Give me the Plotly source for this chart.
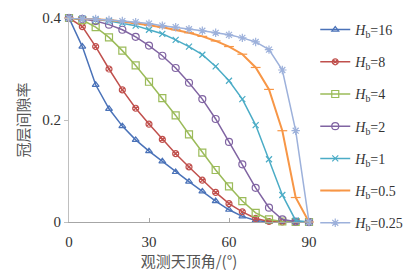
import plotly.graph_objects as go

angles = list(range(0, 95, 5))

hb16 = [0.400, 0.344, 0.269, 0.222, 0.188, 0.161, 0.139, 0.119, 0.098, 0.079, 0.060, 0.041, 0.024, 0.011, 0.003, 0.000, 0.000, 0.000, 0.000]
hb8 = [0.400, 0.383, 0.344, 0.300, 0.259, 0.223, 0.192, 0.162, 0.134, 0.108, 0.082, 0.058, 0.036, 0.020, 0.007, 0.001, 0.000, 0.000, 0.000]
hb4 = [0.400, 0.396, 0.382, 0.362, 0.336, 0.307, 0.275, 0.243, 0.209, 0.172, 0.136, 0.102, 0.070, 0.041, 0.018, 0.005, 0.001, 0.000, 0.000]
hb2 = [0.400, 0.398, 0.394, 0.387, 0.377, 0.363, 0.346, 0.326, 0.302, 0.273, 0.241, 0.202, 0.157, 0.113, 0.067, 0.028, 0.005, 0.001, 0.000]
hb1 = [0.400, 0.399, 0.397, 0.394, 0.390, 0.385, 0.377, 0.369, 0.357, 0.344, 0.328, 0.305, 0.277, 0.241, 0.190, 0.123, 0.053, 0.003, 0.000]
hb05 = [0.400, 0.399, 0.398, 0.396, 0.393, 0.390, 0.386, 0.382, 0.377, 0.371, 0.364, 0.355, 0.344, 0.329, 0.303, 0.260, 0.179, 0.048, 0.000]
hb025 = [0.400, 0.399, 0.398, 0.396, 0.394, 0.392, 0.389, 0.385, 0.382, 0.378, 0.375, 0.371, 0.367, 0.361, 0.353, 0.338, 0.298, 0.179, 0.000]

names = ["16", "8", "4", "2", "1", "0.5", "0.25"]
series = [hb16, hb8, hb4, hb2, hb1, hb05, hb025]
colors = ["#4A72B8", "#C0504D", "#9BBB59", "#8064A2", "#4BACC6", "#F79646", "#9DB1DB"]
symbols = ["triangle-up-open", "circle-x-open", "square-open", "circle-open", "x-thin-open", "line-ew-open", "asterisk-open"]
sizes = [6, 6, 7, 7, 6, 7, 7]
lwidths = [1.5, 1.5, 1.5, 1.5, 1.5, 2, 1.5]

fig = go.Figure()
for i, (n, ys) in enumerate(zip(names, series)):
    fig.add_trace(go.Scatter(
        x=angles, y=ys, mode="lines+markers",
        name="<i>H</i><sub>b</sub>=" + n,
        legendgroup=str(i),
        line=dict(color=colors[i], width=lwidths[i]),
        marker=dict(symbol=symbols[i], size=sizes[i], color=colors[i],
                    line=dict(color=colors[i], width=1.2)),
        cliponaxis=False,
    ))

serif = "Liberation Serif, Times New Roman, serif"
cjk = "Noto Sans CJK SC"

fig.update_layout(
    width=417, height=274,
    margin=dict(l=69, r=108, t=18, b=52, autoexpand=False),
    paper_bgcolor="white", plot_bgcolor="white",
    showlegend=True,
    legend=dict(
        xref="container", yref="container", x=0.756, y=1 - 14 / 274,
        xanchor="left", yanchor="top",
        font=dict(family=serif, size=14, color="#333333"),
        tracegroupgap=11, bgcolor="rgba(0,0,0,0)", itemwidth=30,
        maxheight=270,
    ),
    xaxis=dict(
        range=[0, 90], tickvals=[0, 30, 60, 90], ticktext=["0", "30", "60", "90"],
        showgrid=False, zeroline=False, showline=True, linecolor="#A6A6A6", linewidth=1,
        ticks="inside", ticklen=4, tickcolor="#A6A6A6", automargin=False,
        ticklabelstandoff=6,
        tickfont=dict(family=serif, size=15, color="#333333"),
        title=dict(text="观测天顶角/(°)", font=dict(family=cjk, size=15, color="#555555"), standoff=5),
    ),
    yaxis=dict(
        range=[0, 0.4], tickvals=[0, 0.2, 0.4], ticktext=["0", "0.2", "0.4"],
        showgrid=False, zeroline=False, showline=True, linecolor="#BFBFBF", linewidth=1,
        ticks="outside", ticklen=4, tickcolor="#BFBFBF", automargin=False,
        tickfont=dict(family=serif, size=15, color="#333333"),
        title=dict(text="冠层间隙率", font=dict(family=cjk, size=15, color="#555555"), standoff=9),
    ),
)

fig.write_html("out.html", config={"displayModeBar": False},
               post_script="document.body.style.margin='0';")
